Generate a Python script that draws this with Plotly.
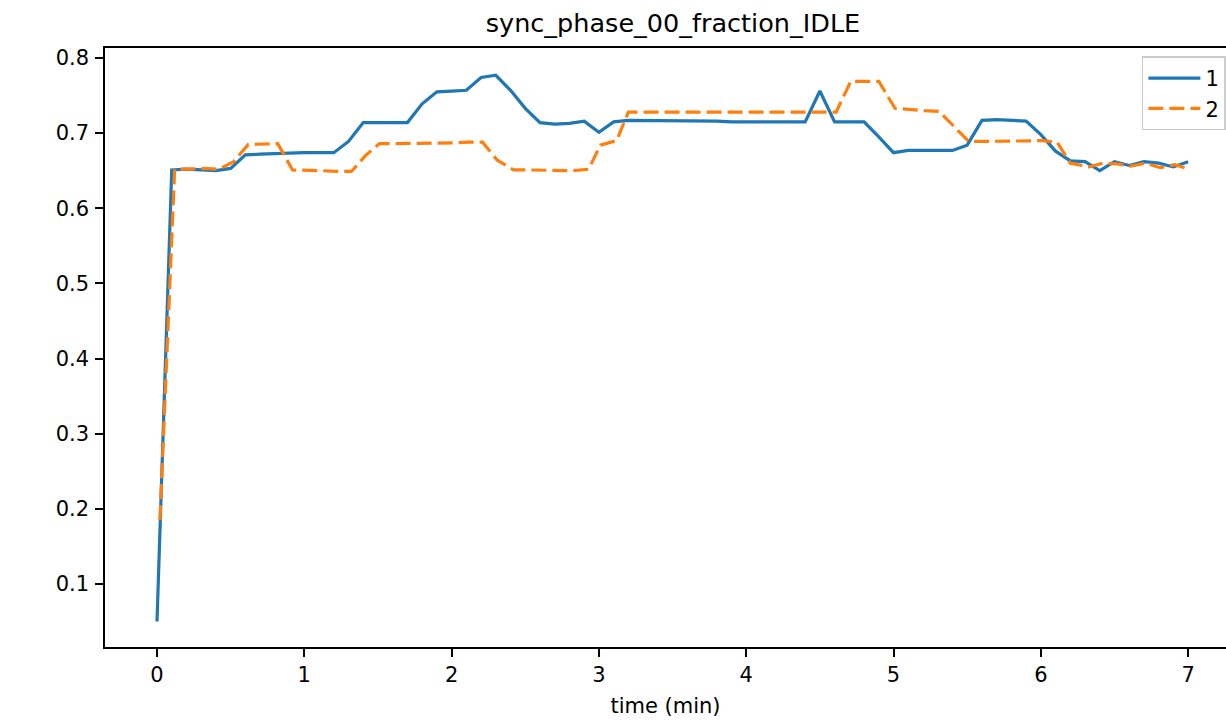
import plotly.graph_objects as go

# run 1 (solid blue)
time_1 = [0.0, 0.1, 0.2, 0.3, 0.4, 0.5, 0.6, 0.7, 0.8, 0.9,
          1.0, 1.1, 1.2, 1.3, 1.4, 1.5, 1.6, 1.7, 1.8, 1.9,
          2.0, 2.1, 2.2, 2.3, 2.4, 2.5, 2.6, 2.7, 2.8, 2.9,
          3.0, 3.1, 3.2, 3.3, 3.4, 3.5, 3.6, 3.7, 3.8, 3.9,
          4.0, 4.1, 4.2, 4.3, 4.4, 4.5, 4.6, 4.7, 4.8, 4.9,
          5.0, 5.1, 5.2, 5.3, 5.4, 5.5, 5.6, 5.7, 5.8, 5.9,
          6.0, 6.1, 6.2, 6.3, 6.4, 6.5, 6.6, 6.7, 6.8, 6.9, 7.0]
idle_1 = [0.050, 0.651, 0.652, 0.651, 0.650, 0.653, 0.671, 0.672, 0.673, 0.674,
          0.674, 0.674, 0.674, 0.689, 0.714, 0.714, 0.714, 0.714, 0.739, 0.755,
          0.756, 0.757, 0.774, 0.777, 0.757, 0.733, 0.714, 0.712, 0.713, 0.716,
          0.701, 0.715, 0.717, 0.717, 0.717, 0.716, 0.716, 0.716, 0.716, 0.715,
          0.715, 0.716, 0.716, 0.716, 0.715, 0.756, 0.715, 0.715, 0.715, 0.695,
          0.674, 0.677, 0.677, 0.677, 0.677, 0.684, 0.717, 0.718, 0.717, 0.716,
          0.698, 0.676, 0.663, 0.662, 0.650, 0.662, 0.657, 0.662, 0.660, 0.655, 0.662]

# run 2 (dashed orange), its own sample times
time_2 = [0.02, 0.12, 0.22, 0.32, 0.42, 0.52, 0.62, 0.72, 0.82, 0.92,
          1.02, 1.12, 1.22, 1.32, 1.42, 1.51, 1.61, 1.71, 1.81, 1.91,
          2.01, 2.11, 2.21, 2.31, 2.42, 2.52, 2.62, 2.72, 2.82, 2.93,
          3.01, 3.12, 3.20, 3.30, 3.40, 3.50, 3.60, 3.70, 3.80, 3.90,
          4.00, 4.10, 4.20, 4.30, 4.40, 4.50, 4.61, 4.71, 4.80, 4.90,
          5.01, 5.11, 5.21, 5.31, 5.51, 5.61, 5.71, 5.81, 5.91,
          6.01, 6.11, 6.20, 6.33, 6.42, 6.52, 6.61, 6.71, 6.81, 6.91, 7.01]
idle_2 = [0.185, 0.652, 0.652, 0.653, 0.652, 0.662, 0.685, 0.686, 0.686, 0.651,
          0.651, 0.650, 0.649, 0.649, 0.671, 0.686, 0.686, 0.686, 0.687, 0.687,
          0.687, 0.688, 0.688, 0.664, 0.651, 0.651, 0.651, 0.650, 0.650, 0.652,
          0.684, 0.690, 0.728, 0.728, 0.728, 0.728, 0.729, 0.729, 0.729, 0.728,
          0.728, 0.729, 0.729, 0.729, 0.729, 0.729, 0.728, 0.769, 0.769, 0.769,
          0.733, 0.731, 0.730, 0.729, 0.689, 0.689, 0.689, 0.689, 0.689,
          0.690, 0.688, 0.660, 0.655, 0.660, 0.659, 0.656, 0.660, 0.654, 0.658, 0.652]

x_ticks = [0, 1, 2, 3, 4, 5, 6, 7]
y_ticks = [0.1, 0.2, 0.3, 0.4, 0.5, 0.6, 0.7, 0.8]

font = "DejaVu Sans"

fig = go.Figure()
fig.add_trace(go.Scatter(x=time_1, y=idle_1, mode="lines", name="1", legendgroup="1",
                         line=dict(color="#1f77b4", width=3.2)))
fig.add_trace(go.Scatter(x=time_2, y=idle_2, mode="lines", name="2", legendgroup="2",
                         line=dict(color="#ff7f0e", width=3.2, dash="15px,6px")))

axis_style = dict(showgrid=False, zeroline=False, showline=True, linecolor="black",
                  linewidth=1.5, ticks="outside", ticklen=8, tickwidth=1.5,
                  tickcolor="black", tickfont=dict(family=font, size=21, color="black"))

# axes run past the right edge of the picture, like the original (clipped) figure
fig.update_layout(
    width=1226, height=721,
    paper_bgcolor="white", plot_bgcolor="white",
    margin=dict(l=105, r=0, t=48, b=74, autoexpand=False),
    title=dict(text="sync_phase_00_fraction_IDLE", xref="paper", x=0.5067, xanchor="center",
               y=0.968, yanchor="middle", font=dict(family=font, size=25.5, color="black")),
    xaxis=dict(range=[-0.353, 7.257], tickvals=x_ticks, mirror=True,
               title=dict(text="time (min)", font=dict(family=font, size=21, color="black"),
                          standoff=12),
               **axis_style),
    yaxis=dict(range=[0.0161, 0.8133], tickvals=y_ticks, ticklabelstandoff=2, **axis_style),
    legend=dict(x=0.925, y=0.986, xanchor="left", yanchor="top", itemwidth=52,
                entrywidth=100, entrywidthmode="pixels",
                bordercolor="#cccccc", borderwidth=1.5, bgcolor="rgba(255,255,255,0.8)",
                font=dict(family=font, size=21, color="black"), tracegroupgap=0),
    showlegend=True,
)

# drop the page margin so the 1226x721 figure fills the window exactly
fig.write_html("out.html", config={"displayModeBar": False},
               post_script="document.body.style.margin='0';document.body.style.overflow='hidden';")
